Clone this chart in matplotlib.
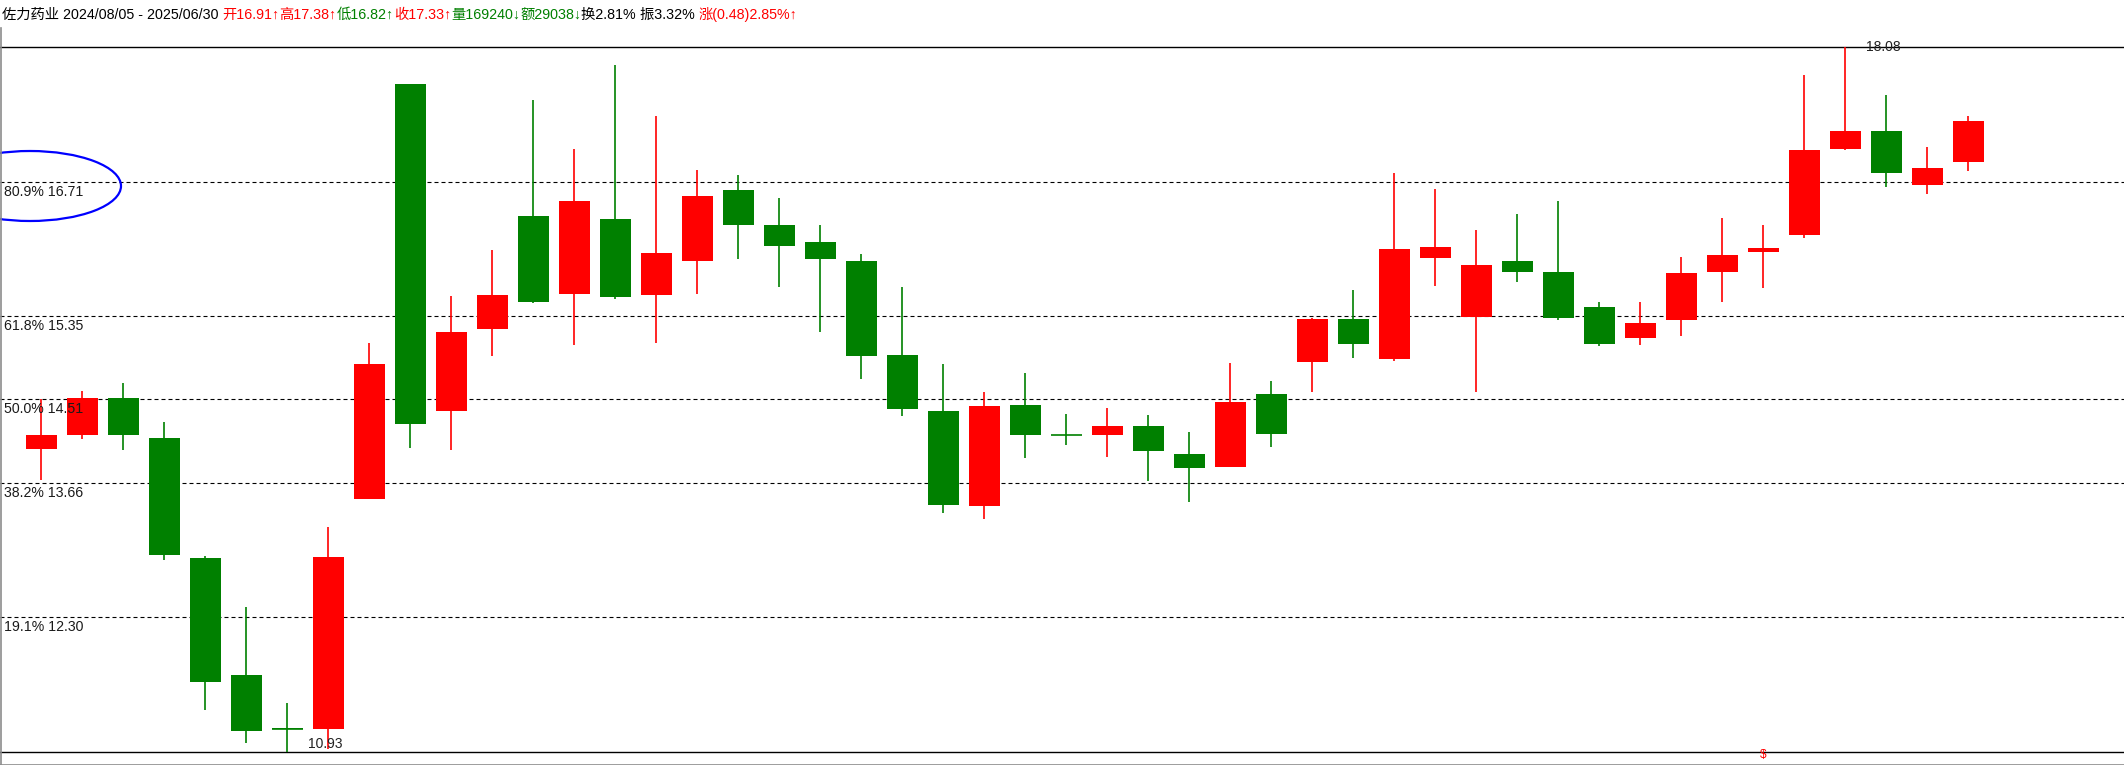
import matplotlib
matplotlib.use('Agg')
import numpy as np
import matplotlib.pyplot as plt
from matplotlib.patches import Ellipse

plt.rcParams['font.family'] = ['Liberation Sans', 'Noto Sans CJK SC', 'DejaVu Sans']

# --- weekly OHLC, 2024/08/05 - 2025/06/30 ---
opens = [14.00, 14.15, 14.52, 14.11, 12.90, 11.71, 11.17, 11.16, 13.50, 17.70,
         14.39, 15.22, 16.37, 15.58, 16.34, 15.56, 15.91, 16.63, 16.27, 16.10,
         15.91, 14.96, 14.39, 13.42, 14.45, 14.15, 14.15, 14.24, 13.95, 13.82,
         14.56, 14.89, 15.32, 14.92, 15.94, 15.34, 15.91, 15.80, 15.44, 15.13,
         15.31, 15.80, 16.00, 16.17, 17.05, 17.23, 16.68, 16.91]
highs = [14.51, 14.59, 14.67, 14.28, 12.92, 12.40, 11.43, 13.21, 15.08, 17.70,
         15.55, 16.02, 17.54, 17.05, 17.90, 17.38, 16.83, 16.78, 16.55, 16.27,
         15.98, 15.65, 14.87, 14.58, 14.77, 14.36, 14.42, 14.35, 14.18, 14.88,
         14.69, 15.33, 15.62, 16.80, 16.64, 16.22, 16.39, 16.52, 15.49, 15.49,
         15.95, 16.35, 16.27, 17.80, 18.08, 17.59, 17.07, 17.38]
lows = [13.69, 14.10, 13.99, 12.88, 11.36, 11.02, 10.93, 10.96, 13.50, 14.01,
        13.99, 14.95, 15.48, 15.06, 15.52, 15.08, 15.57, 15.93, 15.65, 15.19,
        14.71, 14.34, 13.35, 13.29, 13.91, 14.04, 13.92, 13.68, 13.47, 13.82,
        14.02, 14.58, 14.93, 14.90, 15.66, 14.58, 15.70, 15.31, 15.05, 15.06,
        15.15, 15.49, 15.64, 16.14, 17.04, 16.66, 16.59, 16.82]
closes = [14.15, 14.52, 14.15, 12.93, 11.64, 11.14, 11.16, 12.91, 14.86, 14.26,
          15.19, 15.56, 15.49, 16.52, 15.54, 15.99, 16.57, 16.27, 16.06, 15.93,
          14.95, 14.41, 13.44, 14.44, 14.15, 14.14, 14.24, 13.98, 13.81, 14.48,
          14.16, 15.32, 15.07, 16.03, 16.05, 15.87, 15.80, 15.33, 15.07, 15.28,
          15.79, 15.97, 16.04, 17.04, 17.23, 16.80, 16.85, 17.33]

fib_pct = ['80.9%', '61.8%', '50.0%', '38.2%', '19.1%']
fib_price = [16.71, 15.35, 14.51, 13.66, 12.30]
hi_price, hi_idx = 18.08, 44
lo_price, lo_idx = 10.93, 6
mark_idx = 42

header_parts = [
    ('佐力药业 2024/08/05 - 2025/06/30 ', 'black'),
    ('开16.91↑', 'red'), ('高17.38↑', 'red'), ('低16.82↑', 'green'),
    ('收17.33↑', 'red'), ('量169240↓', 'green'), ('额29038↓', 'green'),
    ('换2.81% ', 'black'), ('振3.32% ', 'black'), ('涨(0.48)2.85%↑', 'red'),
]

RED = '#ff0000'
GREEN = '#008000'

W, H = 2124, 765
fig = plt.figure(figsize=(W / 100, H / 100), dpi=100, facecolor='white')
ax = fig.add_axes([0, 0, 1, 1])
ax.axis('off')

# pixel layout of the price panel
top_px, bot_px = 47, 752
ppu = (bot_px - top_px) / (hi_price - lo_price)
ax.set_ylim(lo_price - (H - bot_px) / ppu, hi_price + top_px / ppu)
x0, dx = 41.3, 41.0
ax.set_xlim(-x0 / dx, (W - x0) / dx)

o = np.array(opens); h = np.array(highs); l = np.array(lows); c = np.array(closes)
x = np.arange(len(o))
cols = np.where(c > o, RED, GREEN)
bw = 31 / dx

# fib levels
for pct, p in zip(fib_pct, fib_price):
    ax.axhline(p, color='black', lw=0.8, ls=(0, (3.6, 2.7)), zorder=1)
    ax.text(4 / dx - x0 / dx, p - 3 / ppu, f'{pct} {p:.2f}', fontsize=10.2,
            color='#1a1a1a', va='top', ha='left', zorder=5)
ax.axhline(hi_price, color='black', lw=1.0, zorder=1)
ax.axhline(lo_price, color='black', lw=1.0, zorder=1)

# candles
ax.vlines(x, l, h, colors=cols, lw=1.2, zorder=2)
ax.bar(x, np.abs(c - o), bottom=np.minimum(o, c), width=bw, color=cols,
       linewidth=0, zorder=3)
doji = np.abs(c - o) < 0.02
ax.hlines(c[doji], x[doji] - bw / 2, x[doji] + bw / 2, colors=cols[doji], lw=1.2, zorder=3)

# high / low labels
ax.text(hi_idx + 0.5, hi_price, f'{hi_price:.2f}', fontsize=10, color='#222222',
        va='center', ha='left', zorder=5)
ax.text(lo_idx + 0.5, lo_price + 1 / ppu, f'{lo_price:.2f}', fontsize=10, color='#222222',
        va='bottom', ha='left', zorder=5)
ax.text(mark_idx, lo_price - 3 / ppu, '$', fontsize=8.5, color=RED, va='center',
        ha='center', zorder=5)

# blue ellipse around the 80.9% label
ell = Ellipse((30 / dx - x0 / dx, hi_price - (186 - top_px) / ppu), 2 * 91 / dx, 2 * 35 / ppu,
              fill=False, edgecolor='#0000ff', lw=1.6, zorder=4)
ax.add_patch(ell)

# frame
fig.add_artist(plt.Line2D([1 / W, 1 / W], [0, 1 - 28 / H], color='#8c8c8c', lw=1.2))
fig.add_artist(plt.Line2D([0, 1], [0.5 / H, 0.5 / H], color='#8c8c8c', lw=1.2))

# header line
renderer = fig.canvas.get_renderer()
xpos = 2
for s, col in header_parts:
    t = fig.text(xpos / W, 1 - 15 / H, s, color=col, fontsize=10.3, va='center', ha='left')
    xpos += t.get_window_extent(renderer).width

fig.savefig('out.png', dpi=100, facecolor='white')
